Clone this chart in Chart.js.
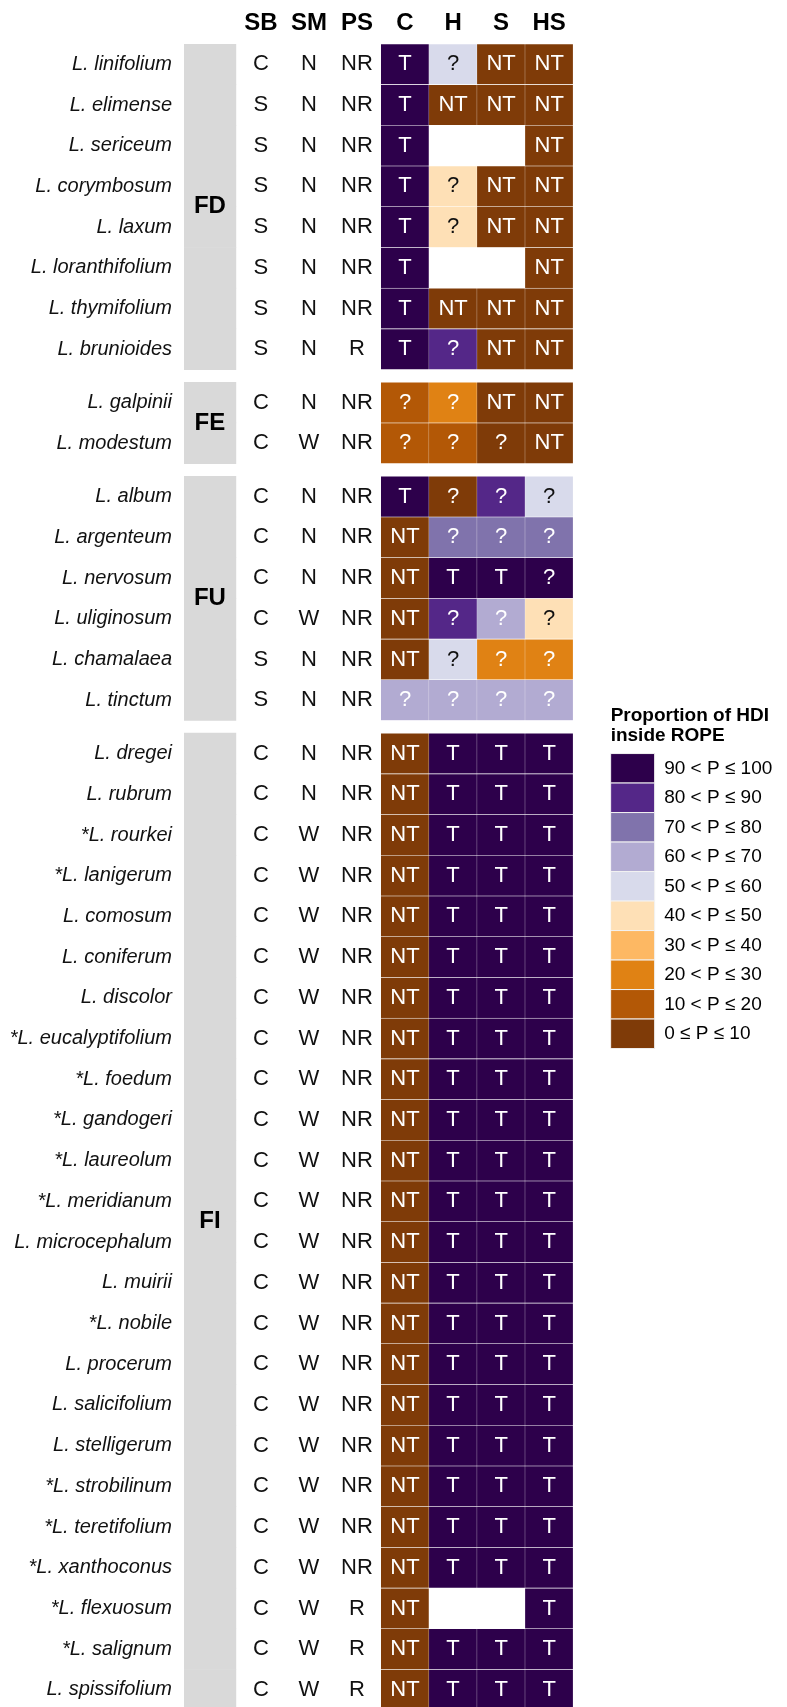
<!DOCTYPE html>
<html lang="en">
<head>
<meta charset="utf-8" />
<title>Proportion of HDI inside ROPE</title>
<style>
  html, body { margin: 0; padding: 0; background: #ffffff; }
  #wrap { position: relative; width: 787px; height: 1707px; }
</style>
</head>
<body>
<div id="wrap"><canvas id="kt_chart_rope"></canvas></div>
<script src="https://cdn.jsdelivr.net/npm/chart.js"></script>
<script>
const groupNames = ["FD", "FE", "FU", "FI"];
const groupSizes = [8, 2, 6, 24];

const species = [
  "L. linifolium", "L. elimense", "L. sericeum", "L. corymbosum", "L. laxum",
  "L. loranthifolium", "L. thymifolium", "L. brunioides",
  "L. galpinii", "L. modestum",
  "L. album", "L. argenteum", "L. nervosum", "L. uliginosum", "L. chamalaea", "L. tinctum",
  "L. dregei", "L. rubrum", "*L. rourkei", "*L. lanigerum", "L. comosum", "L. coniferum",
  "L. discolor", "*L. eucalyptifolium", "*L. foedum", "*L. gandogeri", "*L. laureolum",
  "*L. meridianum", "L. microcephalum", "L. muirii", "*L. nobile", "L. procerum",
  "L. salicifolium", "L. stelligerum", "*L. strobilinum", "*L. teretifolium",
  "*L. xanthoconus", "*L. flexuosum", "*L. salignum", "L. spissifolium"
];

const columnLabels = ["SB", "SM", "PS", "C", "H", "S", "HS"];

const sbValues = [
  "C", "S", "S", "S", "S", "S", "S", "S",
  "C", "C",
  "C", "C", "C", "C", "S", "S",
  "C", "C", "C", "C", "C", "C", "C", "C", "C", "C", "C", "C",
  "C", "C", "C", "C", "C", "C", "C", "C", "C", "C", "C", "C"
];
const smValues = [
  "N", "N", "N", "N", "N", "N", "N", "N",
  "N", "W",
  "N", "N", "N", "W", "N", "N",
  "N", "N", "W", "W", "W", "W", "W", "W", "W", "W", "W", "W",
  "W", "W", "W", "W", "W", "W", "W", "W", "W", "W", "W", "W"
];
const psValues = [
  "NR", "NR", "NR", "NR", "NR", "NR", "NR", "R",
  "NR", "NR",
  "NR", "NR", "NR", "NR", "NR", "NR",
  "NR", "NR", "NR", "NR", "NR", "NR", "NR", "NR", "NR", "NR", "NR", "NR",
  "NR", "NR", "NR", "NR", "NR", "NR", "NR", "NR", "NR", "R", "R", "R"
];

// proportion of HDI inside ROPE (%), read from the colour bins; null = no cell
const propC = [
  100, 100, 100, 100, 100, 100, 100, 100,
  15, 15,
  100, 0, 0, 0, 0, 65,
  0, 0, 0, 0, 0, 0, 0, 0, 0, 0, 0, 0,
  0, 0, 0, 0, 0, 0, 0, 0, 0, 0, 0, 0
];
const propH = [
  55, 0, null, 45, 45, null, 0, 85,
  25, 15,
  5, 75, 100, 85, 55, 65,
  100, 100, 100, 100, 100, 100, 100, 100, 100, 100, 100, 100,
  100, 100, 100, 100, 100, 100, 100, 100, 100, null, 100, 100
];
const propS = [
  0, 0, null, 0, 0, null, 0, 0,
  0, 5,
  85, 75, 100, 65, 25, 65,
  100, 100, 100, 100, 100, 100, 100, 100, 100, 100, 100, 100,
  100, 100, 100, 100, 100, 100, 100, 100, 100, null, 100, 100
];
const propHS = [
  0, 0, 0, 0, 0, 0, 0, 0,
  0, 0,
  55, 75, 95, 45, 25, 65,
  100, 100, 100, 100, 100, 100, 100, 100, 100, 100, 100, 100,
  100, 100, 100, 100, 100, 100, 100, 100, 100, 100, 100, 100
];

const callC = [
  "T", "T", "T", "T", "T", "T", "T", "T",
  "?", "?",
  "T", "NT", "NT", "NT", "NT", "?",
  "NT", "NT", "NT", "NT", "NT", "NT", "NT", "NT", "NT", "NT", "NT", "NT",
  "NT", "NT", "NT", "NT", "NT", "NT", "NT", "NT", "NT", "NT", "NT", "NT"
];
const callH = [
  "?", "NT", null, "?", "?", null, "NT", "?",
  "?", "?",
  "?", "?", "T", "?", "?", "?",
  "T", "T", "T", "T", "T", "T", "T", "T", "T", "T", "T", "T",
  "T", "T", "T", "T", "T", "T", "T", "T", "T", null, "T", "T"
];
const callS = [
  "NT", "NT", null, "NT", "NT", null, "NT", "NT",
  "NT", "?",
  "?", "?", "T", "?", "?", "?",
  "T", "T", "T", "T", "T", "T", "T", "T", "T", "T", "T", "T",
  "T", "T", "T", "T", "T", "T", "T", "T", "T", null, "T", "T"
];
const callHS = [
  "NT", "NT", "NT", "NT", "NT", "NT", "NT", "NT",
  "NT", "NT",
  "?", "?", "?", "?", "?", "?",
  "T", "T", "T", "T", "T", "T", "T", "T", "T", "T", "T", "T",
  "T", "T", "T", "T", "T", "T", "T", "T", "T", "T", "T", "T"
];

const binLabels = [
  "0 ≤ P ≤ 10", "10 < P ≤ 20", "20 < P ≤ 30", "30 < P ≤ 40", "40 < P ≤ 50",
  "50 < P ≤ 60", "60 < P ≤ 70", "70 < P ≤ 80", "80 < P ≤ 90", "90 < P ≤ 100"
];
const binColors = [
  "#7F3B08", "#B35806", "#E08214", "#FDB863", "#FEE0B6",
  "#D8DAEB", "#B2ABD2", "#8073AC", "#542788", "#2D004B"
];
const darkTextBins = [3, 4, 5];

const fontFamily = "'Liberation Sans', Arial, Helvetica, sans-serif";
const groupGap = 0.31;
const firstTestCol = 3;
const bandRange = [-1.6, -0.52];

function binIndex(p) {
  return p <= 10 ? 0 : Math.min(9, Math.ceil(p / 10) - 1);
}

// row positions on the y scale, with a small gap between groups
const rowPos = [];
const rowGroup = [];
let rowIdx = 0;
groupSizes.forEach((n, g) => {
  for (let k = 0; k < n; k++) {
    rowPos.push(rowIdx + g * groupGap);
    rowGroup.push(g);
    rowIdx++;
  }
});

const bandData = rowPos.map((y) => ({ x: bandRange, y }));

const testProps = [propC, propH, propS, propHS];
const testCalls = [callC, callH, callS, callHS];
const cellData = [];
species.forEach((name, i) => {
  testProps.forEach((arr, j) => {
    if (arr[i] === null) return;
    const col = firstTestCol + j;
    cellData.push({ x: [col - 0.5, col + 0.5], y: rowPos[i], p: arr[i], call: testCalls[j][i] });
  });
});

const ropeText = {
  id: "ropeText",
  afterDatasetsDraw(chart) {
    const { ctx, scales: { x, y } } = chart;
    ctx.save();
    ctx.textAlign = "center";
    ctx.textBaseline = "middle";

    // SB / SM / PS letters
    ctx.font = "22px " + fontFamily;
    ctx.fillStyle = "#111111";
    [sbValues, smValues, psValues].forEach((arr, c) => {
      arr.forEach((t, i) => {
        ctx.fillText(t, x.getPixelForValue(c), y.getPixelForValue(rowPos[i]));
      });
    });

    // T / NT / ? inside the cells
    const meta = chart.getDatasetMeta(1);
    meta.data.forEach((bar, k) => {
      const d = cellData[k];
      const pt = bar.getCenterPoint();
      ctx.fillStyle = darkTextBins.includes(binIndex(d.p)) ? "#111111" : "#ffffff";
      ctx.fillText(d.call, pt.x, pt.y);
    });

    // group names on the grey bands
    ctx.font = "bold 24px " + fontFamily;
    ctx.fillStyle = "#000000";
    const bx = x.getPixelForValue((bandRange[0] + bandRange[1]) / 2);
    groupNames.forEach((g, gi) => {
      const rows = rowPos.filter((p, i) => rowGroup[i] === gi);
      const mid = (rows[0] + rows[rows.length - 1]) / 2;
      ctx.fillText(g, bx, y.getPixelForValue(mid));
    });
    ctx.restore();
  }
};

new Chart(document.getElementById("kt_chart_rope"), {
  type: "bar",
  data: {
    datasets: [
      {
        label: "group",
        data: bandData,
        backgroundColor: "#D9D9D9",
        borderWidth: 0
      },
      {
        label: "HDI inside ROPE",
        data: cellData,
        backgroundColor: (c) => binColors[binIndex(c.raw.p)],
        borderColor: "rgba(255,255,255,0.55)",
        borderWidth: 0.6
      }
    ]
  },
  options: {
    indexAxis: "y",
    responsive: true,
    maintainAspectRatio: false,
    animation: false,
    datasets: {
      bar: { grouped: false, barPercentage: 1, categoryPercentage: 1 }
    },
    layout: { padding: { top: 2.1, right: 4.7, left: 0, bottom: 0 } },
    scales: {
      x: {
        type: "linear",
        position: "top",
        offset: false,
        min: -1.6,
        max: 7.28,
        bounds: "data",
        grid: { display: false, drawTicks: false },
        border: { display: false },
        afterBuildTicks: (s) => {
          s.ticks = columnLabels.map((_, i) => ({ value: i }));
        },
        afterFit: (s) => {
          s.paddingLeft = 0;
          s.paddingRight = 0;
        },
        ticks: {
          autoSkip: false,
          maxRotation: 0,
          padding: 6.5,
          color: "#000000",
          font: { family: fontFamily, size: 24, weight: "bold" },
          callback: (v, i) => columnLabels[i]
        }
      },
      y: {
        type: "linear",
        reverse: true,
        offset: false,
        min: -0.5,
        max: 40.35,
        bounds: "data",
        grid: { display: false, drawTicks: false, offset: false },
        border: { display: false },
        afterBuildTicks: (s) => {
          s.ticks = rowPos.map((v) => ({ value: v }));
        },
        afterFit: (s) => {
          s.width = 184;
          s.paddingTop = 0;
          s.paddingBottom = 0;
        },
        ticks: {
          autoSkip: false,
          padding: 12,
          color: "#111111",
          font: { family: fontFamily, size: 20, style: "italic" },
          callback: (v, i) => species[i]
        }
      }
    },
    plugins: {
      tooltip: { enabled: false },
      legend: {
        position: "right",
        align: "start",
        onClick: null,
        labels: {
          boxWidth: 44,
          boxHeight: 29.5,
          padding: 0,
          color: "#111111",
          font: { family: fontFamily, size: 19 },
          generateLabels: () =>
            binLabels
              .map((text, i) => ({
                text,
                fillStyle: binColors[i],
                strokeStyle: "#f2f2f2",
                lineWidth: 1,
                hidden: false,
                datasetIndex: 1
              }))
              .reverse()
        },
        title: {
          display: true,
          position: "start",
          text: ["Proportion of HDI", "inside ROPE"],
          color: "#000000",
          font: { family: fontFamily, size: 19, weight: "bold", lineHeight: 1.05 },
          padding: { top: 704.5, bottom: 27 }
        }
      }
    }
  },
  plugins: [ropeText]
});
</script>
</body>
</html>
